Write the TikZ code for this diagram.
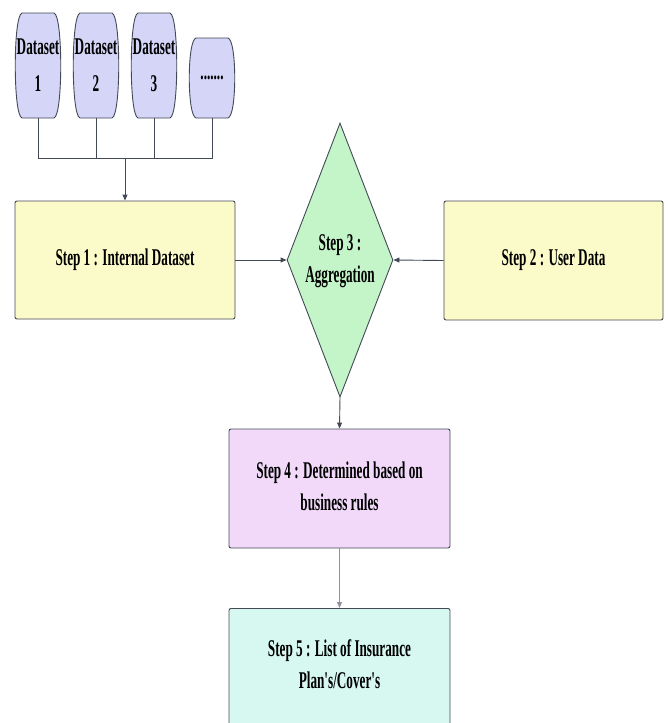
\documentclass[tikz,border=0pt]{standalone}
\usepackage{fontspec}
\newfontfamily\labfont{Liberation Serif}[FakeStretch=0.55]
\usetikzlibrary{arrows.meta,calc,shapes.geometric}
\definecolor{edgecol}{HTML}{434955}
\definecolor{yelfill}{HTML}{FBFAC9}
\definecolor{purfill}{HTML}{F2D9FA}
\definecolor{cyafill}{HTML}{D6F8F1}
\definecolor{grnfill}{HTML}{C4F5C9}
\definecolor{dsfill}{HTML}{D4D5F7}
\definecolor{lightcon}{HTML}{8E939B}
\begin{document}
\begin{tikzpicture}[x=1pt,y=-1pt,
  lab/.style={font=\labfont\bfseries\fontsize{24}{32}\selectfont, align=center, text=black},
  dsnode/.style={lab, inner sep=0pt, minimum width=47pt, font=\labfont\bfseries\fontsize{24}{37}\selectfont},
  stepbox/.style={lab, draw=edgecol, line width=0.9pt, rounded corners=2pt, inner sep=0pt},
  con/.style={draw=edgecol, line width=0.9pt},
  arr/.style={con, -{Triangle[width=5pt,length=6pt]}}
]
\useasboundingbox (0,0) rectangle (668,723);
\clip (0,0) rectangle (668,723);
\fill[white] (0,0) rectangle (668,723);

% dataset shapes
\newcommand{\dsshape}[4]{% x1 y1 x2 y2
  \filldraw[fill=dsfill, draw=edgecol, line width=0.9pt]
    (#1+7,#2) -- (#3-7,#2) .. controls (#3+2,#2+2) and (#3+2,#4-2) .. (#3-7,#4)
    -- (#1+7,#4) .. controls (#1-2,#4-2) and (#1-2,#2+2) .. (#1+7,#2) -- cycle;}
\dsshape{15}{13}{61}{118}
\dsshape{73}{13}{119}{118}
\dsshape{131}{13}{177}{118}
\dsshape{189}{38}{235}{118}

\node[dsnode, minimum height=105pt] (d1) at (38,65.5) {Dataset\\1};
\node[dsnode, minimum height=105pt] (d2) at (96,65.5) {Dataset\\2};
\node[dsnode, minimum height=105pt] (d3) at (154,65.5) {Dataset\\3};
\node[dsnode, minimum height=80pt] (d4) at (212,78) {.......};

% steps
\node[stepbox, fill=yelfill, minimum width=220pt, minimum height=118pt] (s1) at (125,260) {Step 1 : Internal Dataset};
\node[stepbox, fill=yelfill, minimum width=219pt, minimum height=119pt] (s2) at (553.5,260.5) {Step 2 : User Data};
\node[diamond, draw=edgecol, fill=grnfill, line width=0.9pt, inner sep=0pt, minimum width=106pt, minimum height=274pt] (s3) at (340,260) {};
\node[lab] (s3t) at (340,261) {Step 3 :\\Aggregation};
\node[stepbox, fill=purfill, minimum width=221pt, minimum height=119pt] (s4) at (339.5,488.5) {};
\node[lab] (s4t) at (339.5,486) {Step 4 : Determined based on\\business rules};
\node[stepbox, fill=cyafill, minimum width=221pt, minimum height=140pt, anchor=north] (s5) at (339.5,608) {};
\node[lab] (s5t) at (339.5,664) {Step 5 : List of Insurance\\Plan's/Cover's};

% connectors
\coordinate (j) at (125,158);
\draw[con] (d1.south) |- (j);
\draw[con] (d2.south) -- (d2.south |- j);
\draw[con] (d3.south) -- (d3.south |- j);
\draw[con] (d4.south) |- (j);
\draw[arr] (j) -- (s1.north);
\draw[arr] (s1.east) -- (s3.west);
\draw[arr] (s2.west) -- (s3.east);
\draw[arr] (s3.south) -- (s4.north);
\draw[arr, draw=lightcon] (s4.south) -- (s5.north);
\end{tikzpicture}
\end{document}
